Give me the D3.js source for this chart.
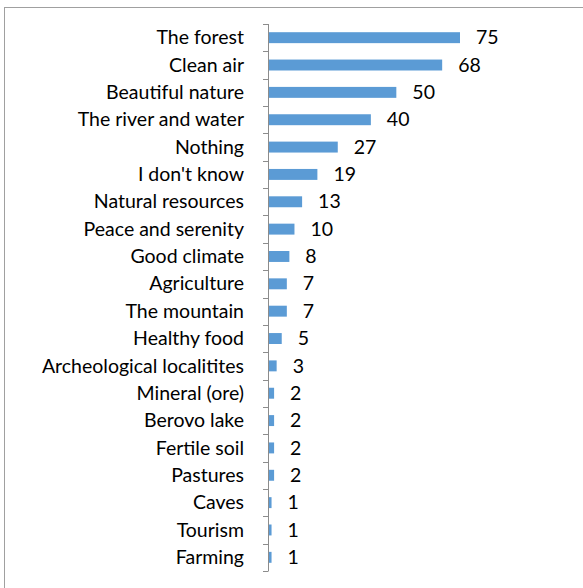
<!DOCTYPE html>
<html lang="en">
<head>
    <meta charset="UTF-8">
    <title>Bar chart</title>
    <script src="https://d3js.org/d3.v7.min.js"></script>
    <style>
        body { margin: 0; background: #fff; font-family: Lato, "Open Sans", sans-serif; }
        .cat { font-size: 19.5px; fill: #000; }
        .val { font-size: 19.5px; fill: #000; }
    </style>
</head>
<body>
    <div id="chart"></div>
    <script>
        // categories, top to bottom
        const categories = ["The forest", "Clean air", "Beautiful nature", "The river and water",
            "Nothing", "I don't know", "Natural resources", "Peace and serenity", "Good climate",
            "Agriculture", "The mountain", "Healthy food", "Archeological localitites",
            "Mineral (ore)", "Berovo lake", "Fertile soil", "Pastures", "Caves", "Tourism", "Farming"];
        const values = [75, 68, 50, 40, 27, 19, 13, 10, 8, 7, 7, 5, 3, 2, 2, 2, 2, 1, 1, 1];

        const W = 583, H = 588;
        const svg = d3.select("#chart").append("svg")
            .attr("width", W).attr("height", H);

        // outer frame
        svg.append("rect")
            .attr("x", 4.5).attr("y", 7.5)
            .attr("width", W + 10).attr("height", H + 10)
            .attr("fill", "none").attr("stroke", "#a0a0a0").attr("stroke-width", 1);

        const x0 = 269, plotTop = 24, plotBottom = 571;
        const x = d3.scaleLinear().domain([0, 75]).range([x0, 460]);
        const y = d3.scaleBand().domain(categories).range([plotTop, plotBottom]).paddingInner(0.6).paddingOuter(0.3);
        const yb = d3.scaleBand().domain(categories).range([plotTop, plotBottom]);

        // axis line and tick marks between categories
        const g = svg.append("g");
        g.append("line")
            .attr("x1", x0 - 0.5).attr("x2", x0 - 0.5)
            .attr("y1", plotTop).attr("y2", plotBottom)
            .attr("stroke", "#8c8c8c");
        const ticks = categories.map(c => yb(c)).concat([plotBottom]);
        g.selectAll(".tk").data(ticks).enter().append("line")
            .attr("x1", x0 - 6).attr("x2", x0 - 0.5)
            .attr("y1", d => Math.round(d) + 0.5).attr("y2", d => Math.round(d) + 0.5)
            .attr("stroke", "#8c8c8c");

        svg.selectAll(".bar").data(values).enter().append("rect")
            .attr("class", "bar")
            .attr("x", x0)
            .attr("y", (d, i) => y(categories[i]))
            .attr("width", d => x(d) - x0)
            .attr("height", y.bandwidth())
            .attr("fill", "#5b9bd5");

        svg.selectAll(".cat").data(categories).enter().append("text")
            .attr("class", "cat")
            .attr("x", 244)
            .attr("y", d => yb(d) + yb.bandwidth() / 2)
            .attr("dy", "0.34em")
            .attr("text-anchor", "end")
            .text(d => d);

        svg.selectAll(".val").data(values).enter().append("text")
            .attr("class", "val")
            .attr("x", d => x(d) + 16)
            .attr("y", (d, i) => yb(categories[i]) + yb.bandwidth() / 2)
            .attr("dy", "0.34em")
            .text(d => d);
    </script>
</body>
</html>
